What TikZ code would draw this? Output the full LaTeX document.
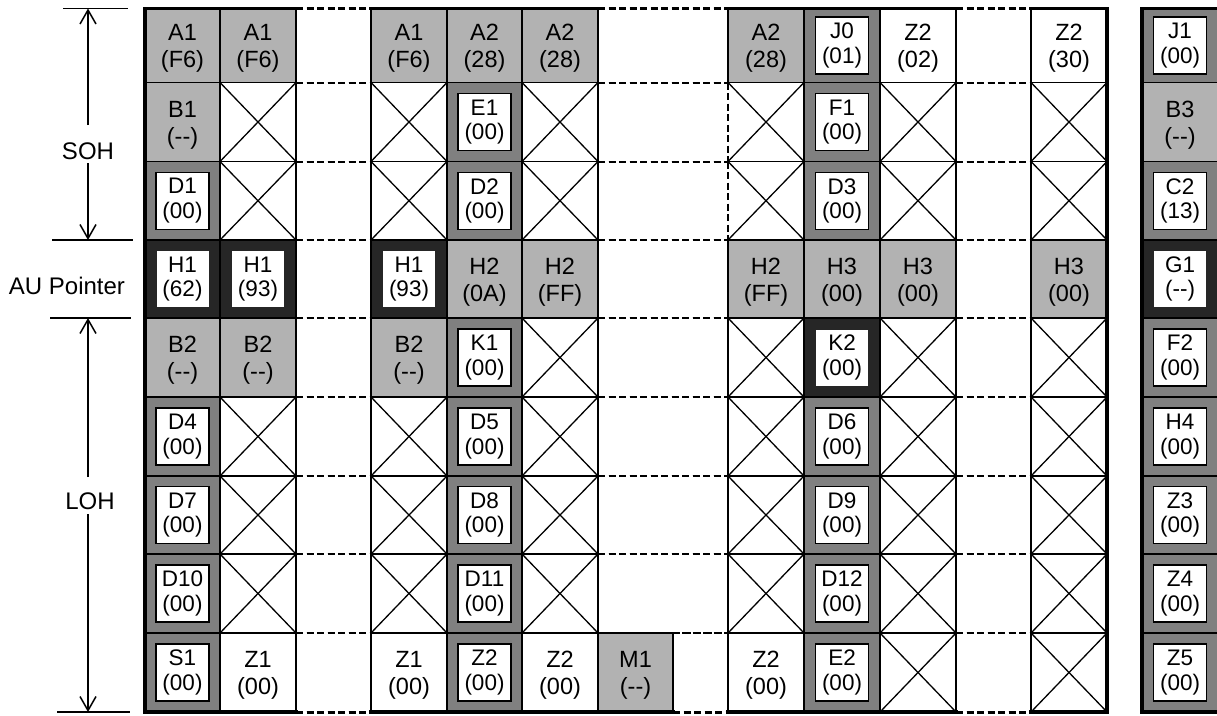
\documentclass[tikz,border=0pt]{standalone}
\usepackage{fontspec}
\setmainfont{Liberation Sans}
\usetikzlibrary{arrows.meta}
\definecolor{lg}{gray}{0.70}
\definecolor{mg}{gray}{0.50}
\definecolor{dg}{gray}{0.15}
\def\BX{{145,220,296,371,447,522,598,728,804,880,956,1031,1107,1142,1218}}
\def\RY{{8.5,82.5,161.5,240,318,397,476,554,633,712}}
\def\gpass{1}
\newcommand\gcell[5]{%
  \pgfmathsetmacro\xa{\BX[#1]}%
  \pgfmathsetmacro\xb{\BX[#1+1]}%
  \pgfmathsetmacro\ya{\RY[#2]}%
  \pgfmathsetmacro\yb{\RY[#2+1]}%
  \pgfmathsetmacro\xm{(\xa+\xb)/2}%
  \pgfmathsetmacro\ym{(\ya+\yb)/2}%
  \ifnum\gpass=1 \csname gf#3\endcsname\else\csname gd#3\endcsname{#1}{#2}{#4}{#5}\fi}
% pass 1: fills
\newcommand\gfL{\fill[lg] (\xa,\ya) rectangle (\xb,\yb);}
\newcommand\gfM{\fill[mg] (\xa,\ya) rectangle (\xb,\yb);}
\newcommand\gfD{\fill[dg] (\xa,\ya) rectangle (\xb,\yb);}
\newcommand\gfW{}
\newcommand\gfX{}
\newcommand\gfY{}
\newcommand\gfG{}
% pass 2: lines and text
\newcommand\gdL[4]{\draw[cellline] (\xa,\ya) rectangle (\xb,\yb); \node[lbl] (c#1-#2) at (\xm,\ym) {#3\\#4};}
\newcommand\gdW[4]{\draw[cellline] (\xa,\ya) rectangle (\xb,\yb); \node[lbl] (c#1-#2) at (\xm,\ym) {#3\\#4};}
\newcommand\gdM[4]{\draw[cellline] (\xa,\ya) rectangle (\xb,\yb); \node[ibox] (c#1-#2) at (\xm,\ym) {#3\\#4};}
\newcommand\gdD[4]{\draw[cellline] (\xa,\ya) rectangle (\xb,\yb); \node[dbox] (c#1-#2) at (\xm,\ym) {#3\\#4};}
\newcommand\gdX[4]{\draw[cellline] (\xa,\ya) rectangle (\xb,\yb); \draw[crossline] (\xa,\ya) -- (\xb,\yb) (\xa,\yb) -- (\xb,\ya);}
\newcommand\gdY[4]{\draw[cellline] (\xa,\ya) -- (\xb,\ya) -- (\xb,\yb) -- (\xa,\yb); \draw[gapline] (\xa,\ya) -- (\xa,\yb); \draw[crossline] (\xa,\ya) -- (\xb,\yb) (\xa,\yb) -- (\xb,\ya);}
\newcommand\gdG[4]{\draw[gapline] (\xa,\ya) -- (\xb,\ya) (\xa,\yb) -- (\xb,\yb);}
\newcommand\allcells{%
\gcell{0}{0}{L}{A1}{(F6)}\gcell{1}{0}{L}{A1}{(F6)}\gcell{2}{0}{G}{}{}\gcell{3}{0}{L}{A1}{(F6)}%
\gcell{4}{0}{L}{A2}{(28)}\gcell{5}{0}{L}{A2}{(28)}\gcell{6}{0}{G}{}{}\gcell{7}{0}{L}{A2}{(28)}%
\gcell{8}{0}{M}{J0}{(01)}\gcell{9}{0}{W}{Z2}{(02)}\gcell{10}{0}{G}{}{}\gcell{11}{0}{W}{Z2}{(30)}\gcell{13}{0}{M}{J1}{(00)}%
\gcell{0}{1}{L}{B1}{(-{}-)}\gcell{1}{1}{X}{}{}\gcell{2}{1}{G}{}{}\gcell{3}{1}{X}{}{}%
\gcell{4}{1}{M}{E1}{(00)}\gcell{5}{1}{X}{}{}\gcell{6}{1}{G}{}{}\gcell{7}{1}{Y}{}{}%
\gcell{8}{1}{M}{F1}{(00)}\gcell{9}{1}{X}{}{}\gcell{10}{1}{G}{}{}\gcell{11}{1}{X}{}{}\gcell{13}{1}{L}{B3}{(-{}-)}%
\gcell{0}{2}{M}{D1}{(00)}\gcell{1}{2}{X}{}{}\gcell{2}{2}{G}{}{}\gcell{3}{2}{X}{}{}%
\gcell{4}{2}{M}{D2}{(00)}\gcell{5}{2}{X}{}{}\gcell{6}{2}{G}{}{}\gcell{7}{2}{Y}{}{}%
\gcell{8}{2}{M}{D3}{(00)}\gcell{9}{2}{X}{}{}\gcell{10}{2}{G}{}{}\gcell{11}{2}{X}{}{}\gcell{13}{2}{M}{C2}{(13)}%
\gcell{0}{3}{D}{H1}{(62)}\gcell{1}{3}{D}{H1}{(93)}\gcell{2}{3}{G}{}{}\gcell{3}{3}{D}{H1}{(93)}%
\gcell{4}{3}{L}{H2}{(0A)}\gcell{5}{3}{L}{H2}{(FF)}\gcell{6}{3}{G}{}{}\gcell{7}{3}{L}{H2}{(FF)}%
\gcell{8}{3}{L}{H3}{(00)}\gcell{9}{3}{L}{H3}{(00)}\gcell{10}{3}{G}{}{}\gcell{11}{3}{L}{H3}{(00)}\gcell{13}{3}{D}{G1}{(-{}-)}%
\gcell{0}{4}{L}{B2}{(-{}-)}\gcell{1}{4}{L}{B2}{(-{}-)}\gcell{2}{4}{G}{}{}\gcell{3}{4}{L}{B2}{(-{}-)}%
\gcell{4}{4}{M}{K1}{(00)}\gcell{5}{4}{X}{}{}\gcell{6}{4}{G}{}{}\gcell{7}{4}{X}{}{}%
\gcell{8}{4}{D}{K2}{(00)}\gcell{9}{4}{X}{}{}\gcell{10}{4}{G}{}{}\gcell{11}{4}{X}{}{}\gcell{13}{4}{M}{F2}{(00)}%
\gcell{0}{5}{M}{D4}{(00)}\gcell{1}{5}{X}{}{}\gcell{2}{5}{G}{}{}\gcell{3}{5}{X}{}{}%
\gcell{4}{5}{M}{D5}{(00)}\gcell{5}{5}{X}{}{}\gcell{6}{5}{G}{}{}\gcell{7}{5}{X}{}{}%
\gcell{8}{5}{M}{D6}{(00)}\gcell{9}{5}{X}{}{}\gcell{10}{5}{G}{}{}\gcell{11}{5}{X}{}{}\gcell{13}{5}{M}{H4}{(00)}%
\gcell{0}{6}{M}{D7}{(00)}\gcell{1}{6}{X}{}{}\gcell{2}{6}{G}{}{}\gcell{3}{6}{X}{}{}%
\gcell{4}{6}{M}{D8}{(00)}\gcell{5}{6}{X}{}{}\gcell{6}{6}{G}{}{}\gcell{7}{6}{X}{}{}%
\gcell{8}{6}{M}{D9}{(00)}\gcell{9}{6}{X}{}{}\gcell{10}{6}{G}{}{}\gcell{11}{6}{X}{}{}\gcell{13}{6}{M}{Z3}{(00)}%
\gcell{0}{7}{M}{D10}{(00)}\gcell{1}{7}{X}{}{}\gcell{2}{7}{G}{}{}\gcell{3}{7}{X}{}{}%
\gcell{4}{7}{M}{D11}{(00)}\gcell{5}{7}{X}{}{}\gcell{6}{7}{G}{}{}\gcell{7}{7}{X}{}{}%
\gcell{8}{7}{M}{D12}{(00)}\gcell{9}{7}{X}{}{}\gcell{10}{7}{G}{}{}\gcell{11}{7}{X}{}{}\gcell{13}{7}{M}{Z4}{(00)}%
\gcell{0}{8}{M}{S1}{(00)}\gcell{1}{8}{W}{Z1}{(00)}\gcell{2}{8}{G}{}{}\gcell{3}{8}{W}{Z1}{(00)}%
\gcell{4}{8}{M}{Z2}{(00)}\gcell{5}{8}{W}{Z2}{(00)}\gcell{7}{8}{W}{Z2}{(00)}%
\gcell{8}{8}{M}{E2}{(00)}\gcell{9}{8}{X}{}{}\gcell{10}{8}{G}{}{}\gcell{11}{8}{X}{}{}\gcell{13}{8}{M}{Z5}{(00)}%
}
\begin{document}
\begin{tikzpicture}[x=1pt,y=-1pt,
  cellline/.style={line width=1.5pt},
  crossline/.style={line width=1.3pt},
  frame/.style={line width=3.5pt,line cap=rect},
  gapline/.style={line width=2pt,dash pattern=on 7pt off 3.5pt},
  gapframe/.style={line width=3pt,dash pattern=on 7pt off 3.5pt},
  lbl/.style={font=\fontsize{23.5}{27}\selectfont,align=center,inner sep=0pt,yshift=-3pt},
  ibox/.style={draw,line width=1.5pt,fill=white,minimum width=53pt,minimum height=57pt,inner sep=0pt,align=center,font=\fontsize{22.5}{24.5}\selectfont},
  dbox/.style={fill=white,minimum width=52pt,minimum height=56pt,inner sep=0pt,align=center,font=\fontsize{22.5}{24.5}\selectfont},
  side/.style={font=\fontsize{24}{28}\selectfont,inner sep=0pt},
  tick/.style={line width=1.5pt},
  arr/.style={line width=1.5pt,-{Straight Barb[length=14pt,width=16pt,line width=1.5pt]}}]
\path[use as bounding box] (0,0) rectangle (1217,715);
\def\gpass{1}\allcells
% M1 cell fill
\fill[lg] (598,633) rectangle (673,712);
\def\gpass{2}\allcells
% M1 cell
\draw[cellline] (598,633) rectangle (673,712);
\node[lbl] (m1) at (635.5,672.5) {M1\\(-{}-)};
\draw[gapline] (673,633) -- (728,633);
% outer frame
\draw[frame] (296,8.5) -- (145,8.5) -- (145,712) -- (296,712);
\draw[frame] (371,8.5) -- (598,8.5);
\draw[frame] (371,712) -- (673,712);
\draw[frame] (728,8.5) -- (956,8.5);
\draw[frame] (728,712) -- (956,712);
\draw[frame] (1031,8.5) -- (1107,8.5) -- (1107,712) -- (1031,712);
\draw[gapframe] (296,8.5) -- (371,8.5) (598,8.5) -- (728,8.5) (956,8.5) -- (1031,8.5);
\draw[gapframe] (296,712) -- (371,712) (673,712) -- (728,712) (956,712) -- (1031,712);
\draw[frame] (1142,8.5) rectangle (1219,712);
% side annotations
\coordinate (t1a) at (63,8.5);  \coordinate (t1b) at (128,8.5);
\coordinate (t2a) at (52,240);  \coordinate (t2b) at (133,240);
\coordinate (t3a) at (50,318);  \coordinate (t3b) at (131,318);
\coordinate (t4a) at (57,712);  \coordinate (t4b) at (130,712);
\draw[tick] (t1a) -- (t1b) (t2a) -- (t2b) (t3a) -- (t3b) (t4a) -- (t4b);
\node[side] (soh) at (88,151) {SOH};
\node[side] (aup) at (67,286) {AU Pointer};
\node[side] (loh) at (90,501) {LOH};
\coordinate (sohTop) at (88,8.5); \coordinate (sohUp) at (88,125);
\coordinate (sohDn) at (88,163); \coordinate (sohBot) at (88,240);
\draw[arr] (sohUp) -- (sohTop);
\draw[arr] (sohDn) -- (sohBot);
\coordinate (lohTop) at (88,318); \coordinate (lohUp) at (88,477);
\coordinate (lohDn) at (88,514); \coordinate (lohBot) at (88,712);
\draw[arr] (lohUp) -- (lohTop);
\draw[arr] (lohDn) -- (lohBot);
\end{tikzpicture}
\end{document}
